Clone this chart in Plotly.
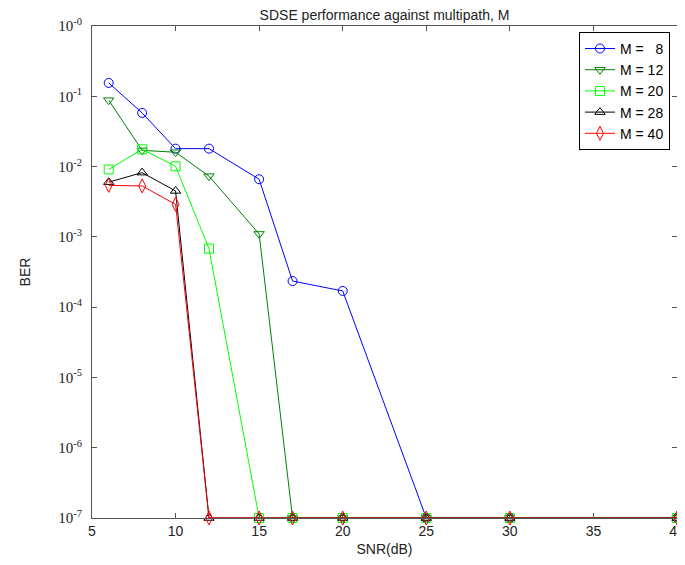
import plotly.graph_objects as go

snr = [6, 8, 10, 12, 15, 17, 20, 25, 30, 40]
ber_m8 = [0.155, 0.058, 0.018, 0.018, 0.0066, 2.35e-4, 1.7e-4, 1e-7, 1e-7, 1e-7]
ber_m12 = [0.088, 0.017, 0.016, 0.0073, 0.0011, 1e-7, 1e-7, 1e-7, 1e-7, 1e-7]
ber_m20 = [0.0091, 0.0176, 0.0101, 6.8e-4, 1e-7, 1e-7, 1e-7, 1e-7, 1e-7, 1e-7]
ber_m28 = [0.0060, 0.0082, 0.0045, 1e-7, 1e-7, 1e-7, 1e-7, 1e-7, 1e-7, 1e-7]
ber_m40 = [0.0054, 0.0053, 0.0029, 1e-7, 1e-7, 1e-7, 1e-7, 1e-7, 1e-7, 1e-7]

series = [
    ("M = \u20078", ber_m8, "#0000ff", "circle-open", 9),
    ("M = 12", ber_m12, "#008000", "triangle-down-open", 9),
    ("M = 20", ber_m20, "#00ff00", "square-open", 9),
    ("M = 28", ber_m28, "#000000", "triangle-up-open", 9),
    ("M = 40", ber_m40, "#ff0000", "diamond-tall-open", 10),
]

y_ticks = [10.0 ** (-k) for k in range(0, 8)]
y_labels = ["10<sup>-%d</sup>" % k for k in range(0, 8)]

fig = go.Figure()
for name, ys, col, sym, sz in series:
    fig.add_trace(go.Scatter(
        x=snr, y=ys, name=name, mode="lines+markers",
        line=dict(color=col, width=1),
        marker=dict(symbol=sym, size=sz, color=col, line=dict(color=col, width=1)),
        cliponaxis=False,
    ))

# page has an 8px body margin; the figure is sized/offset to compensate
fig.update_layout(
    width=677, height=557,
    margin=dict(l=84, r=8, t=18, b=47),
    paper_bgcolor="white", plot_bgcolor="white",
    font=dict(family="Liberation Sans, Arial, sans-serif", size=14, color="#000"),
    title=dict(text="SDSE performance against multipath, M", x=0.5, xref="paper",
               y=0.988, yref="container", xanchor="center", yanchor="middle",
               font=dict(size=14, color="#222")),
    legend=dict(x=0.988, y=0.988, xanchor="right", yanchor="top",
                bgcolor="white", bordercolor="#000", borderwidth=1,
                font=dict(size=14, color="#000"), tracegroupgap=0,
                itemwidth=30),
    showlegend=True,
)
fig.update_xaxes(
    range=[5, 40], tick0=5, dtick=5, showgrid=False, zeroline=False,
    showline=True, linecolor="#555", linewidth=1, mirror="ticks",
    ticks="inside", ticklen=5, tickcolor="#555", automargin=False,
    tickfont=dict(size=14, color="#222"),
    title=dict(text="SNR(dB)", font=dict(size=14, color="#222"), standoff=6),
)
fig.update_yaxes(
    type="log", range=[-7, 0], tickvals=y_ticks, ticktext=y_labels,
    showgrid=False, zeroline=False,
    showline=True, linecolor="#555", linewidth=1, mirror="ticks",
    ticks="inside", ticklen=5, tickcolor="#555", automargin=False,
    ticklabelstandoff=6,
    tickfont=dict(family="Liberation Serif, Times New Roman, serif", size=15, color="#222"),
    title=dict(text="BER", font=dict(size=14, color="#222"), standoff=24),
)

fig.write_html("out.html")
